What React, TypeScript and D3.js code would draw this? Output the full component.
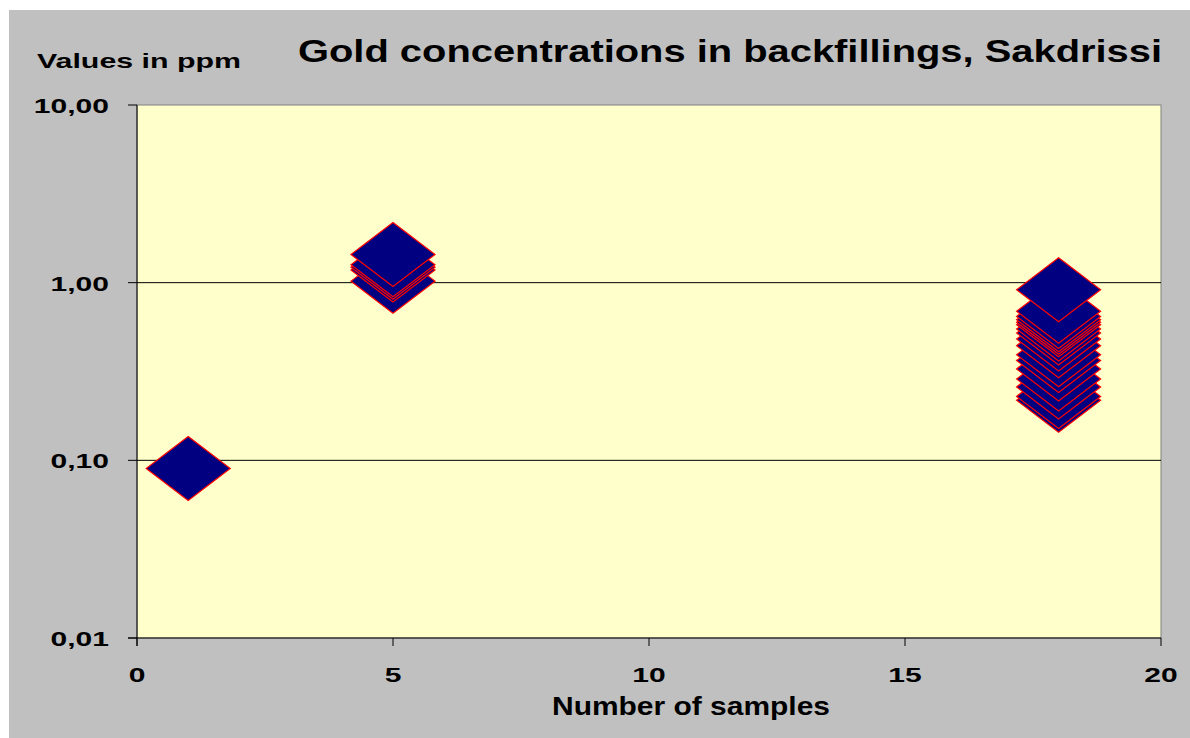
import * as d3 from 'd3'

const xTicks = [0, 5, 10, 15, 20]
const yTicks = [0.01, 0.1, 1, 10]

// sample groups: x = number of samples, values in ppm
const groupX = [1, 5, 18]
const group1 = [0.09]
const group5 = [1.02, 1.18, 1.22, 1.26, 1.44]
const group18 = [
  0.218, 0.229, 0.259, 0.287, 0.327, 0.365, 0.393, 0.442, 0.482, 0.521, 0.549,
  0.58, 0.598, 0.619, 0.646, 0.69, 0.913,
]

const fmt = (v: number) => v.toFixed(2).replace('.', ',')

// the original text is wide (stretched Arial bold), so scale it horizontally
const Wide = ({
  x,
  y,
  anchor,
  size,
  sx,
  children,
}: {
  x: number
  y: number
  anchor: 'start' | 'middle' | 'end'
  size: number
  sx: number
  children: React.ReactNode
}) => (
  <text
    transform={`translate(${x},${y}) scale(${sx},1)`}
    textAnchor={anchor}
    fontSize={size}
  >
    {children}
  </text>
)

export default function App() {
  const width = 1190
  const height = 738
  const left = 137
  const right = 1161
  const top = 105
  const bottom = 638

  const x = d3.scaleLinear().domain([0, 20]).range([left, right])
  const y = d3.scaleLog().domain([0.01, 10]).range([bottom, top])

  const points = [
    ...group1.map((v) => ({ x: groupX[0], v })),
    ...group5.map((v) => ({ x: groupX[1], v })),
    ...group18.map((v) => ({ x: groupX[2], v })),
  ]

  const hw = 42
  const hh = 32
  const diamond = (cx: number, cy: number) =>
    `M${cx},${cy - hh}L${cx + hw},${cy}L${cx},${cy + hh}L${cx - hw},${cy}Z`

  const font = 'Liberation Sans, Arial, sans-serif'

  return (
    <svg
      width={width}
      height={height}
      style={{ position: 'absolute', left: 0, top: 0 }}
      fontFamily={font}
      fontWeight="bold"
    >
      <rect x={0} y={0} width={width} height={height} fill="#fff" />
      <rect x={9} y={10} width={width - 9} height={height - 10} fill="#c0c0c0" />
      <rect
        x={left}
        y={top}
        width={right - left}
        height={bottom - top}
        fill="#ffffcc"
        stroke="#808080"
        strokeWidth={1}
      />

      {/* gridlines */}
      {yTicks
        .filter((t) => t > 0.01 && t < 10)
        .map((t) => (
          <line key={t} x1={left} x2={right} y1={y(t)} y2={y(t)} stroke="#000" />
        ))}

      {/* axes */}
      <line x1={left} x2={left} y1={top} y2={bottom + 8} stroke="#000" />
      <line x1={left - 9} x2={right} y1={bottom} y2={bottom} stroke="#000" />
      {yTicks.map((t) => (
        <g key={t}>
          <line x1={left - 9} x2={left} y1={y(t)} y2={y(t)} stroke="#000" />
          <Wide x={left - 28} y={y(t) + 8} anchor="end" size={21} sx={1.43}>
            {fmt(t)}
          </Wide>
        </g>
      ))}
      {xTicks.map((t) => (
        <g key={t}>
          <line x1={x(t)} x2={x(t)} y1={bottom} y2={bottom + 8} stroke="#000" />
          <Wide x={x(t)} y={682} anchor="middle" size={21} sx={1.43}>
            {t}
          </Wide>
        </g>
      ))}

      {/* markers */}
      {points.map((p, i) => (
        <path
          key={i}
          d={diamond(x(p.x), y(p.v))}
          fill="#000080"
          stroke="#ff0000"
          strokeWidth={1.2}
        />
      ))}

      <text x={37} y={68} fontSize={21} textLength={204} lengthAdjust="spacingAndGlyphs">
        Values in ppm
      </text>
      <text x={298} y={62} fontSize={31} textLength={864} lengthAdjust="spacingAndGlyphs">
        Gold concentrations in backfillings, Sakdrissi
      </text>
      <text x={552} y={715} fontSize={25} textLength={278} lengthAdjust="spacingAndGlyphs">
        Number of samples
      </text>
    </svg>
  )
}
